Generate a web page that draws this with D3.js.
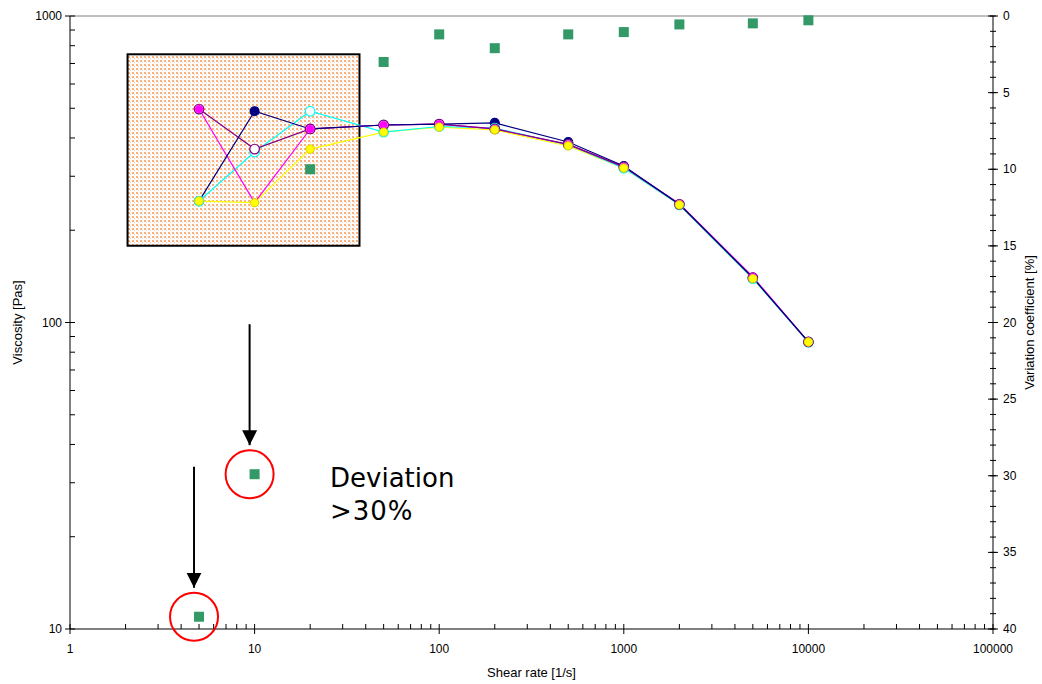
<!DOCTYPE html>
<html>
<head>
<meta charset="utf-8">
<script src="https://cdn.jsdelivr.net/npm/d3@7"></script>
<style>
  body { margin: 0; background: #fff; }
  text { font-family: "Liberation Sans", Arial, sans-serif; }
</style>
</head>
<body>
<div id="chart"></div>
<script>
// shear rates [1/s]
var shearRates = [5, 10, 20, 50, 100, 200, 500, 1000, 2000, 5000, 10000];

// viscosity series [Pas]
var navySeries    = [249, 489, 428, 441, 444, 448, 388, 324, 243, 140, 86.4];
var cyanSeries    = [249, 360, 489, 418, 436, 431, 380, 319, 242, 139, 86.2];
var purpleSeries  = [497, 368, 428, 441, 444, 428, 381, 322, 243, 140, 86.4];
var magentaSeries = [497, 246, 428, 441, 444, 428, 381, 322, 244, 141, 86.4];
var yellowSeries  = [249, 246, 368, 418, 434, 425, 377, 319, 242, 139, 86.4];

// variation coefficient [%]
var variation = [39.2, 29.9, 10.0, 3.0, 1.2, 2.1, 1.2, 1.05, 0.55, 0.48, 0.28];

var xTicks = [1, 10, 100, 1000, 10000, 100000];
var yTicks = [10, 100, 1000];
var y2Ticks = [0, 5, 10, 15, 20, 25, 30, 35, 40];

var width = 1042, height = 684;
var plotLeft = 70, plotRight = 993, plotTop = 16, plotBottom = 629;

var svg = d3.select("#chart").append("svg")
    .attr("width", width)
    .attr("height", height);

var x = d3.scaleLog().domain([1, 100000]).range([plotLeft, plotRight]);
var y = d3.scaleLog().domain([10, 1000]).range([plotBottom, plotTop]);
var y2 = d3.scaleLinear().domain([0, 40]).range([plotTop, plotBottom]);

// dotted orange pattern for the box
var defs = svg.append("defs");
var pat = defs.append("pattern")
    .attr("id", "dots")
    .attr("width", 4).attr("height", 4)
    .attr("patternUnits", "userSpaceOnUse");
pat.append("rect").attr("width", 4).attr("height", 4).attr("fill", "#fff");
pat.append("rect").attr("x", 0).attr("y", 0).attr("width", 2).attr("height", 2).attr("fill", "#f8b07c");
pat.append("rect").attr("x", 2).attr("y", 2).attr("width", 1).attr("height", 1).attr("fill", "#fbcaa5");

defs.append("marker")
    .attr("id", "arrow")
    .attr("viewBox", "0 0 10 10")
    .attr("refX", 10).attr("refY", 5)
    .attr("markerWidth", 7.5).attr("markerHeight", 8)
    .attr("markerUnits", "strokeWidth")
    .attr("orient", "auto")
  .append("path")
    .attr("d", "M0,0 L10,5 L0,10 z")
    .attr("fill", "#000");

// highlighted box (behind the lines)
svg.append("rect")
    .attr("x", x(2.05)).attr("y", y(750))
    .attr("width", x(37) - x(2.05))
    .attr("height", y(178) - y(750))
    .attr("fill", "url(#dots)")
    .attr("stroke", "#000")
    .attr("stroke-width", 2);

// top frame line
svg.append("line")
    .attr("x1", plotLeft).attr("x2", plotRight)
    .attr("y1", plotTop).attr("y2", plotTop)
    .attr("stroke", "#808080").attr("stroke-width", 1);

// axes
var xAxis = svg.append("g").attr("transform", "translate(0," + plotBottom + ")");
xAxis.append("line").attr("x1", plotLeft).attr("x2", plotRight).attr("stroke", "#000");
var xMinor = [];
for (var d = 1; d < 100000; d *= 10) for (var k = 2; k <= 9; k++) xMinor.push(d * k);
xAxis.selectAll(".xm").data(xMinor).enter().append("line")
    .attr("x1", function(v) { return x(v); }).attr("x2", function(v) { return x(v); })
    .attr("y1", 0).attr("y2", -5).attr("stroke", "#000");
xAxis.selectAll(".xM").data(xTicks).enter().append("line")
    .attr("x1", function(v) { return x(v); }).attr("x2", function(v) { return x(v); })
    .attr("y1", -5).attr("y2", 5).attr("stroke", "#000");
xAxis.selectAll(".xl").data(xTicks).enter().append("text")
    .attr("x", function(v) { return x(v); }).attr("y", 24)
    .attr("text-anchor", "middle").attr("font-size", 12)
    .text(function(v) { return v; });

var yAxis = svg.append("g").attr("transform", "translate(" + plotLeft + ",0)");
yAxis.append("line").attr("y1", plotTop).attr("y2", plotBottom).attr("stroke", "#000");
var yMinor = [];
for (var d2 = 10; d2 < 1000; d2 *= 10) for (var k2 = 2; k2 <= 9; k2++) yMinor.push(d2 * k2);
yAxis.selectAll(".ym").data(yMinor).enter().append("line")
    .attr("y1", function(v) { return y(v); }).attr("y2", function(v) { return y(v); })
    .attr("x1", 0).attr("x2", 5).attr("stroke", "#000");
yAxis.selectAll(".yM").data(yTicks).enter().append("line")
    .attr("y1", function(v) { return y(v); }).attr("y2", function(v) { return y(v); })
    .attr("x1", -5).attr("x2", 5).attr("stroke", "#000");
yAxis.selectAll(".yl").data(yTicks).enter().append("text")
    .attr("x", -8).attr("y", function(v) { return y(v) + 4; })
    .attr("text-anchor", "end").attr("font-size", 12)
    .text(function(v) { return v; });

var y2Axis = svg.append("g").attr("transform", "translate(" + plotRight + ",0)");
y2Axis.append("line").attr("y1", plotTop).attr("y2", plotBottom).attr("stroke", "#000");
y2Axis.selectAll(".y2m").data(d3.range(0, 41)).enter().append("line")
    .attr("y1", function(v) { return y2(v); }).attr("y2", function(v) { return y2(v); })
    .attr("x1", -3).attr("x2", 3).attr("stroke", "#000");
y2Axis.selectAll(".y2M").data(y2Ticks).enter().append("line")
    .attr("y1", function(v) { return y2(v); }).attr("y2", function(v) { return y2(v); })
    .attr("x1", -5).attr("x2", 5).attr("stroke", "#000");
y2Axis.selectAll(".y2l").data(y2Ticks).enter().append("text")
    .attr("x", 10).attr("y", function(v) { return y2(v) + 4; })
    .attr("font-size", 12)
    .text(function(v) { return v; });

// axis titles
svg.append("text")
    .attr("transform", "translate(22," + ((plotTop + plotBottom) / 2) + ") rotate(-90)")
    .attr("text-anchor", "middle").attr("font-size", 13)
    .text("Viscosity  [Pas]");
svg.append("text")
    .attr("transform", "translate(1034," + ((plotTop + plotBottom) / 2) + ") rotate(-90)")
    .attr("text-anchor", "middle").attr("font-size", 13)
    .text("Variation coefficient [%]");
svg.append("text")
    .attr("x", (plotLeft + plotRight) / 2).attr("y", 677)
    .attr("text-anchor", "middle").attr("font-size", 13)
    .text("Shear rate [1/s]");

// variation coefficient squares
svg.append("g").selectAll("rect").data(variation).enter().append("rect")
    .attr("x", function(v, i) { return x(shearRates[i]) - 5; })
    .attr("y", function(v) { return y2(v) - 5; })
    .attr("width", 10).attr("height", 10)
    .attr("fill", "#339966");

// viscosity series, markers drawn in this order
var series = [
  { values: navySeries,    color: "#000080", fill: "#000080", r: 4.5, sw: 1.2, z: 4 },
  { values: cyanSeries,    color: "#00ffff", fill: "#fff",    r: 4.8, sw: 1.2, z: 1 },
  { values: purpleSeries,  color: "#800080", fill: "#fff",    r: 4.8, sw: 1.2, z: 3 },
  { values: magentaSeries, color: "#ff00ff", fill: "#ff00ff", r: 3.6, sw: 1,   z: 2 },
  { values: yellowSeries,  color: "#ffff00", fill: "#ffff00", r: 4.2, sw: 1,   z: 0 }
];

var line = d3.line()
    .x(function(v, i) { return x(shearRates[i]); })
    .y(function(v) { return y(v); });

// lines: yellow at the back, navy on top
series.slice().sort(function(a, b) { return a.z - b.z; }).forEach(function(s) {
  svg.append("path")
    .datum(s.values)
    .attr("fill", "none")
    .attr("stroke", s.color)
    .attr("stroke-width", 1.2)
    .attr("d", line);
});

series.forEach(function(s) {
  svg.append("g").selectAll("circle").data(s.values).enter().append("circle")
    .attr("cx", function(v, i) { return x(shearRates[i]); })
    .attr("cy", function(v) { return y(v); })
    .attr("r", s.r)
    .attr("fill", s.fill)
    .attr("stroke", s.color === "#ffff00" ? "#e0d000" : s.color)
    .attr("stroke-width", s.sw);
});

// annotations: arrows and red circles on outlying points
var outliers = [0, 1];
outliers.forEach(function(i) {
  var cx = x(shearRates[i]) - 5, cy = y2(variation[i]);
  svg.append("line")
    .attr("x1", cx).attr("x2", cx)
    .attr("y1", cy - 150).attr("y2", cy - 29)
    .attr("stroke", "#000").attr("stroke-width", 2)
    .attr("marker-end", "url(#arrow)");
  svg.append("circle")
    .attr("cx", cx).attr("cy", cy)
    .attr("r", 24)
    .attr("fill", "none")
    .attr("stroke", "#ff0000")
    .attr("stroke-width", 2);
});

svg.append("text")
    .attr("x", 330).attr("y", 487)
    .style("font-family", "'DejaVu Sans', Verdana, sans-serif")
    .attr("font-size", 26)
    .text("Deviation");
svg.append("text")
    .attr("x", 330).attr("y", 520)
    .style("font-family", "'DejaVu Sans', Verdana, sans-serif")
    .attr("font-size", 26)
    .attr("letter-spacing", 1)
    .text(">30%");
</script>
</body>
</html>
